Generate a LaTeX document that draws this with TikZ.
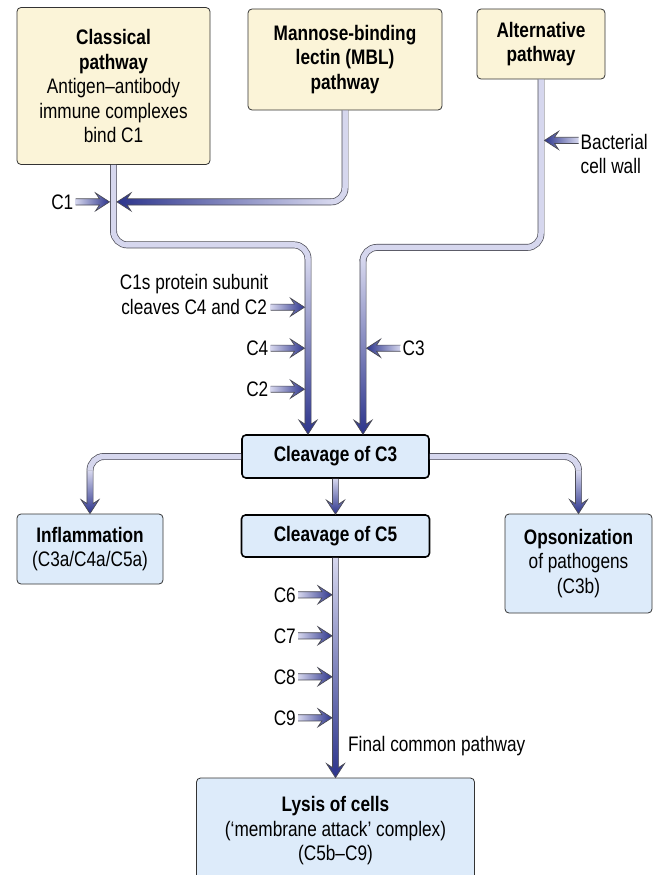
\documentclass[tikz,border=0pt]{standalone}
\usepackage{fontspec}
\setmainfont{Liberation Sans}[FakeStretch=0.82]
\usetikzlibrary{calc, positioning}

\definecolor{pathcream}{RGB}{251,244,216}
\definecolor{boxblue}{RGB}{221,235,250}
\definecolor{tubefill}{RGB}{214,215,238}
\definecolor{tubeline}{RGB}{75,75,85}
\definecolor{arrowblue}{RGB}{44,52,140}

% shaft half width, head half width, head length, barb join
\def\sw{3.1pt}
\def\hw{9pt}
\def\hl{14pt}
\def\hj{10pt}
\newcommand{\arrowpts}[2]{($(#1)!\sw!90:(#2)$) -- ($(\p3)!\sw!90:(#2)$) -- ($(\p4)!\hw!90:(#2)$) -- (#2) -- ($(\p4)!\hw!-90:(#2)$) -- ($(\p3)!\sw!-90:(#2)$) -- ($(#1)!\sw!-90:(#2)$)}
\newcommand{\gradarrow}[3][gradd]{%
  \shade[#1] let \p3=($(#3)!\hj!(#2)$), \p4=($(#3)!\hl!(#2)$) in \arrowpts{#2}{#3} -- cycle;
  \draw[tubeline, line width=0.7pt] let \p3=($(#3)!\hj!(#2)$), \p4=($(#3)!\hl!(#2)$) in \arrowpts{#2}{#3};
}

\begin{document}
\begin{tikzpicture}[x=1pt, y=-1pt, font=\fontsize{21}{24.5}\selectfont,
  pathbox/.style={draw=black!80, line width=0.8pt, fill=pathcream, rounded corners=4pt, align=center, inner sep=2pt},
  stepbox/.style={draw=black, line width=1.6pt, fill=boxblue, rounded corners=4pt, align=center},
  endbox/.style={draw=black!80, line width=0.8pt, fill=boxblue, rounded corners=4pt, align=center},
  lbl/.style={inner sep=2pt},
  tube/.style={draw=tubeline, line width=0.7pt, double=tubefill, double distance=5.5pt, rounded corners=14pt},
  gradd/.style={top color=tubefill, bottom color=arrowblue},
  gradr/.style={left color=tubefill, right color=arrowblue},
  gradl/.style={left color=arrowblue, right color=tubefill}]
  \useasboundingbox (0,0) rectangle (663,875);

  % pathways
  \node[pathbox, minimum width=193pt, minimum height=157pt] (classical) at (113.5,86) {\textbf{Classical}\\\textbf{pathway}\\Antigen–antibody\\immune complexes\\bind C1};
  \node[pathbox, minimum width=194pt, minimum height=101pt] (mbl) at (345,59.5) {\textbf{Mannose-binding}\\\textbf{lectin (MBL)}\\\textbf{pathway}};
  \node[pathbox, minimum width=128pt, minimum height=70pt] (alt) at (541,44) {\textbf{Alternative}\\\textbf{pathway}};

  % cleavage steps and outcomes
  \node[stepbox, minimum width=187pt, minimum height=43pt] (c3) at (335.5,456.5) {\textbf{Cleavage of C3}};
  \node[stepbox, minimum width=188pt, minimum height=42pt] (c5) at (335.5,536) {\textbf{Cleavage of C5}};
  \node[endbox, minimum width=146pt, minimum height=70pt] (infl) at (90,549) {\textbf{Inflammation}\\(C3a/C4a/C5a)};
  \node[endbox, minimum width=147pt, minimum height=99pt] (opso) at (578.5,563.5) {\textbf{Opsonization}\\of pathogens\\(C3b)};
  \node[endbox, minimum width=278pt, minimum height=106pt] (lysis) at (335.5,831) {\textbf{Lysis of cells}\\(‘membrane attack’ complex)\\(C5b–C9)};

  % entry points on the tubes
  \coordinate (c3l) at ($(c3.north)+(-27.5,0)$);
  \coordinate (c3r) at ($(c3.north)+(27.5,0)$);
  \coordinate (ljoin) at ($(c3l)+(0,-175)$);
  \coordinate (rjoin) at ($(c3r)+(0,-175)$);
  \coordinate (c1in) at ($(classical.south)+(-4,37)$);
  \coordinate (mblin) at ($(classical.south)+(3.5,37)$);
  \coordinate (mjoin) at ($(mbl.south |- mblin)+(-14,0)$);
  \coordinate (bcwin) at ($(alt.south)+(3.5,61)$);
  \coordinate (c1sin) at ($(c3l)+(-3.5,-127)$);
  \coordinate (c4in) at ($(c3l)+(-3.5,-86)$);
  \coordinate (c2in) at ($(c3l)+(-3.5,-45)$);
  \coordinate (c3in) at ($(c3r)+(3.5,-86)$);
  \coordinate (ijoin) at ($(infl.north)+(0,-43)$);
  \coordinate (ojoin) at ($(opso.north)+(0,-43)$);
  \coordinate (c6in) at ($(c5.south)+(-3.5,37)$);
  \coordinate (c7in) at ($(c5.south)+(-3.5,78)$);
  \coordinate (c8in) at ($(c5.south)+(-3.5,119)$);
  \coordinate (c9in) at ($(c5.south)+(-3.5,160)$);

  % labels
  \node[lbl, left=34pt of c1in] (c1lbl) {C1};
  \node[lbl, align=left, anchor=west] (bcwlbl) at ($(bcwin)+(34,13.5)$) {Bacterial\\cell wall};
  \node[lbl, align=center, anchor=east] (c1slbl) at ($(c1sin)+(-34,-12.5)$) {C1s protein subunit\\cleaves C4 and C2};
  \node[lbl, left=34pt of c4in] (c4lbl) {C4};
  \node[lbl, left=34pt of c2in] (c2lbl) {C2};
  \node[lbl, right=34pt of c3in] (c3lbl) {C3};
  \node[lbl, left=34pt of c6in] (c6lbl) {C6};
  \node[lbl, left=34pt of c7in] (c7lbl) {C7};
  \node[lbl, left=34pt of c8in] (c8lbl) {C8};
  \node[lbl, left=34pt of c9in] (c9lbl) {C9};
  \node[lbl, anchor=west] (finallbl) at ($(c5.south)+(10.5,188)$) {Final common pathway};
  \coordinate (bcwout) at (bcwlbl.west |- bcwin);
  \coordinate (c1sout) at (c1slbl.east |- c1sin);

  % tubes
  \draw[tube] (classical.south) -- ++(0,80) -| (ljoin);
  \draw[tube] (alt.south) -- ++(0,168) -| (rjoin);
  \draw[tube] (mbl.south) |- (mjoin);
  \draw[tube] (c3.west) -| (ijoin);
  \draw[tube] (c3.east) -| (ojoin);

  % shaded arrows
  \gradarrow{ljoin}{c3l}
  \gradarrow{rjoin}{c3r}
  \gradarrow[gradl]{mjoin}{mblin}
  \gradarrow[gradr]{c1lbl.east}{c1in}
  \gradarrow[gradl]{bcwout}{bcwin}
  \gradarrow[gradr]{c1sout}{c1sin}
  \gradarrow[gradr]{c4lbl.east}{c4in}
  \gradarrow[gradr]{c2lbl.east}{c2in}
  \gradarrow[gradl]{c3lbl.west}{c3in}
  \gradarrow{ijoin}{infl.north}
  \gradarrow{ojoin}{opso.north}
  \gradarrow{c3.south}{c5.north}
  \gradarrow{c5.south}{lysis.north}
  \gradarrow[gradr]{c6lbl.east}{c6in}
  \gradarrow[gradr]{c7lbl.east}{c7in}
  \gradarrow[gradr]{c8lbl.east}{c8in}
  \gradarrow[gradr]{c9lbl.east}{c9in}
\end{tikzpicture}
\end{document}
